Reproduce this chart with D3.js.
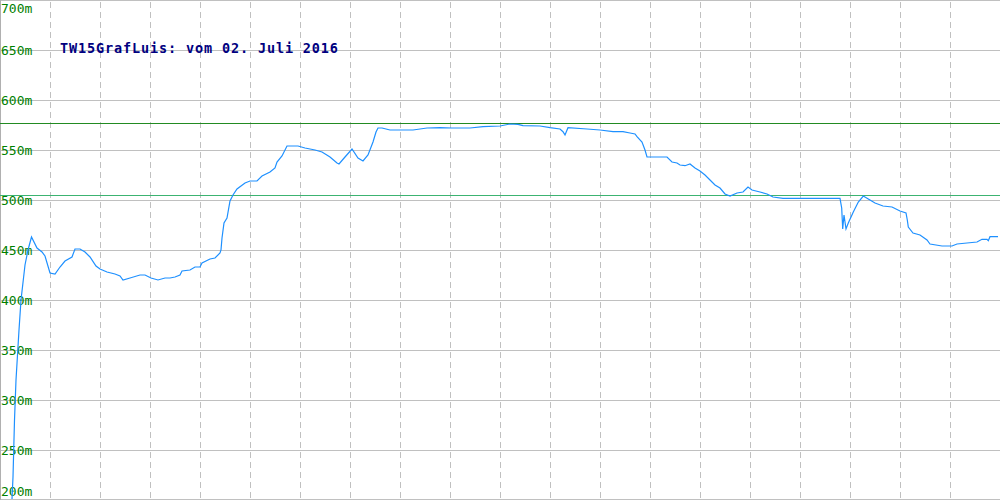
<!DOCTYPE html>
<html>
<head>
<meta charset="utf-8">
<script src="https://cdn.jsdelivr.net/npm/d3@7"></script>
<style>
  html, body { margin: 0; padding: 0; background: #fff; }
  svg { display: block; }
</style>
</head>
<body>
<script>
// ---- data ----
const chartTitle = "TW15GrafLuis: vom 02. Juli 2016";
const yTicks = [200, 250, 300, 350, 400, 450, 500, 550, 600, 650, 700];
const xGrid = [50, 100, 150, 200, 250, 300, 350, 400, 450, 500, 550, 600, 650, 700, 750, 800, 850, 900, 950];
const refLines = [577, 505];
const trackPos = [12, 13, 14.5, 16, 19, 21, 25, 28, 31.5, 37, 42, 45, 50, 55, 60, 65, 72, 75, 80, 85, 90, 96, 100, 107, 115, 120, 123, 130, 140, 145, 151, 158, 165, 170, 175, 180, 182, 190, 195, 200, 202, 210, 215, 220, 221, 222, 224, 227, 230, 233, 237, 245, 250, 257, 262, 270, 275, 277, 282, 287, 298, 305, 315, 322, 330, 337, 339, 345, 352, 358, 363, 368, 373, 376, 378, 382, 390, 413, 427, 440, 452, 470, 483, 500, 510, 518, 523, 540, 550, 560, 563, 565, 568, 587, 600, 613, 623, 630, 635, 637, 642, 645, 647, 667, 672, 677, 680, 685, 690, 695, 700, 705, 710, 715, 720, 725, 730, 737, 743, 748, 752, 760, 767, 773, 783, 840, 841.7, 842.7, 844, 846, 848.3, 853.3, 858.3, 863.3, 868.3, 875, 883, 892, 900, 906, 907.3, 908.3, 913, 920, 927, 930, 942, 952, 957, 967, 977, 982, 987, 988.3, 990, 998];
const elevation = [201, 223, 280, 320, 370, 400, 435, 450, 463, 452, 448, 444, 427, 426, 433, 439, 443, 451, 451, 448, 443, 434, 431, 428, 426, 424, 420, 422, 425, 425, 422, 420, 422, 422, 423, 425, 429, 430, 433, 433, 437, 441, 442, 447, 450, 462, 477, 482, 499, 505, 511, 517, 519, 519, 524, 528, 532, 538, 544, 554, 554, 552, 550, 548, 543, 537, 536, 543, 551, 542, 539, 545, 558, 568, 572, 572, 570, 570, 572, 572.3, 572, 572, 573.3, 574, 576, 575.7, 574.3, 574, 572.3, 571, 568.3, 565, 572.3, 571, 570, 568.3, 568.3, 567, 566, 563.3, 558, 550, 543, 543, 538, 537, 535, 534.3, 536, 532, 529, 525, 520, 515, 512, 506, 504, 507, 508, 513, 510, 508, 506, 503, 501.7, 501.7, 492, 471, 485, 471, 477, 488, 498, 504, 501, 497, 494, 493, 489, 487, 480, 473, 467, 465, 460, 456, 454, 454, 456, 457, 458, 460.7, 460.7, 459.3, 463.3, 463.3];

// ---- chart ----
const W = 1000, H = 500;
const svg = d3.select("body").append("svg").attr("width", W).attr("height", H);
const x = d3.scaleLinear().domain([0, 1000]).range([0, W]);
const y = d3.scaleLinear().domain([200, 700]).range([H, 0]);
const py = v => Math.min(Math.max(Math.round(y(v)), 0), H - 1) + 0.5;

// horizontal gridlines
svg.append("g").selectAll("line").data(yTicks).join("line")
  .attr("x1", 0).attr("x2", W)
  .attr("y1", d => py(d)).attr("y2", d => py(d))
  .attr("stroke", "#c0c0c0").attr("stroke-width", 1)
  .attr("shape-rendering", "crispEdges");

// vertical dashed gridlines
svg.append("g").selectAll("line").data(xGrid).join("line")
  .attr("x1", d => Math.round(x(d)) + 0.5).attr("x2", d => Math.round(x(d)) + 0.5)
  .attr("y1", 0).attr("y2", H)
  .attr("stroke", "#c0c0c0").attr("stroke-width", 1)
  .attr("stroke-dasharray", "6,4").attr("stroke-dashoffset", -2)
  .attr("shape-rendering", "crispEdges");

// left axis line
svg.append("line").attr("x1", 0.5).attr("x2", 0.5).attr("y1", 0).attr("y2", H)
  .attr("stroke", "#b0b0b0").attr("shape-rendering", "crispEdges");

// reference lines
const refColors = ["#228b22", "#3cb371"];
svg.append("g").selectAll("line").data(refLines).join("line")
  .attr("x1", 0).attr("x2", W)
  .attr("y1", d => py(d)).attr("y2", d => py(d))
  .attr("stroke", (d, i) => refColors[i]).attr("stroke-width", 1)
  .attr("shape-rendering", "crispEdges");

// y labels
svg.append("g").selectAll("text").data(yTicks).join("text")
  .attr("x", 1)
  .attr("y", d => Math.min(Math.max(y(d), 8.5), 491))
  .attr("dy", "0.35em")
  .attr("fill", "#008000")
  .attr("font-family", "DejaVu Sans Mono, monospace")
  .attr("font-size", 13)
  .text(d => d + "m");

// track line
const pts = trackPos.map((p, i) => [p, elevation[i]]);
svg.append("path").datum(pts)
  .attr("fill", "none").attr("stroke", "#1e90ff").attr("stroke-width", 1.2)
  .attr("d", d3.line().x(d => x(d[0])).y(d => y(d[1])));

// title
svg.append("text")
  .attr("x", 60).attr("y", 53)
  .attr("fill", "#000080")
  .attr("font-family", "DejaVu Sans Mono, monospace")
  .attr("font-size", 13.5).attr("font-weight", "bold")
  .attr("textLength", 278).attr("lengthAdjust", "spacing")
  .text(chartTitle);
</script>
</body>
</html>
